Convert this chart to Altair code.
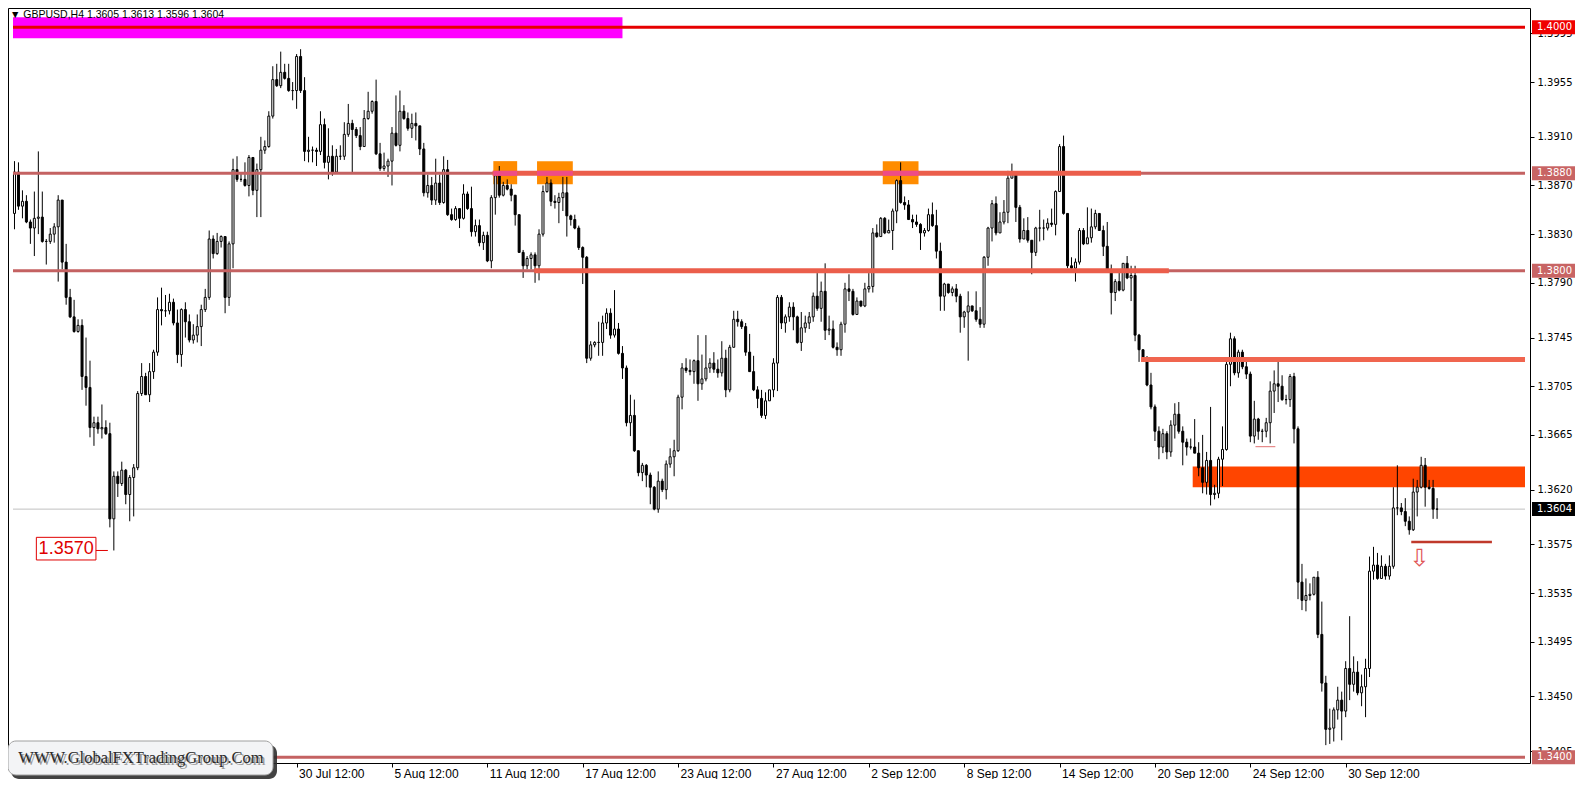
import altair as alt
import pandas as pd

# ---------------- data (prices in 1/10000) ----------------
FIRST_OPEN = 13847
CLOSE = [
13881,13853,13857,13840,13835,13843,13844,13824,13824,13830,13836,13858,13807,13778,13762,13750,13755,13713,13704,13671,
13675,13670,13671,13666,13596,13631,13625,13636,13616,13630,13638,13699,13713,13698,13717,13733,13768,13767,13767,13774,
13757,13731,13768,13758,13743,13747,13754,13768,13778,13826,13814,13824,13828,13778,13822,13883,13875,13875,13870,13893,
13866,13883,13899,13902,13927,13957,13952,13963,13958,13948,13948,13976,13948,13898,13899,13899,13898,13920,13889,13894,
13881,13894,13894,13912,13921,13916,13911,13902,13925,13931,13939,13896,13884,13886,13890,13913,13903,13931,13925,13917,
13921,13919,13900,13864,13870,13858,13872,13856,13883,13846,13842,13851,13843,13863,13851,13832,13837,13823,13829,13808,
13860,13878,13862,13870,13867,13862,13846,13815,13804,13810,13813,13804,13830,13865,13872,13857,13856,13860,13864,13845,
13842,13835,13819,13811,13728,13739,13741,13741,13757,13765,13747,13752,13732,13720,13675,13681,13652,13634,13640,13632,
13622,13604,13627,13620,13641,13647,13652,13696,13720,13718,13717,13726,13707,13711,13720,13724,13719,13716,13728,13702,
13737,13760,13758,13754,13733,13717,13702,13695,13681,13693,13702,13724,13778,13757,13762,13770,13762,13741,13753,13757,
13762,13779,13769,13783,13751,13752,13737,13735,13756,13785,13783,13764,13775,13771,13785,13787,13831,13828,13843,13831,
13833,13849,13874,13856,13854,13842,13840,13838,13831,13833,13846,13837,13816,13779,13789,13782,13785,13779,13762,13766,
13771,13767,13760,13756,13811,13835,13855,13831,13840,13848,13876,13880,13852,13826,13833,13825,13815,13835,13835,13835,
13839,13838,13865,13902,13847,13804,13802,13807,13833,13822,13827,13836,13847,13833,13820,13801,13782,13791,13784,13806,
13794,13796,13747,13735,13729,13706,13688,13668,13655,13666,13651,13673,13682,13668,13659,13655,13655,13650,13638,13626,
13644,13616,13617,13645,13653,13723,13744,13716,13733,13721,13715,13664,13678,13668,13668,13675,13701,13707,13705,13694,
13694,13713,13670,13544,13529,13533,13534,13548,13501,13461,13423,13424,13439,13447,13438,13473,13460,13470,13453,13458,
13473,13553,13558,13547,13557,13549,13557,13605,13605,13602,13594,13587,13618,13622,13640,13622,13621,13604,13604]
HIGH = [
13890,13889,13866,13862,13842,13865,13898,13865,13826,13835,13839,13862,13858,13822,13785,13776,13760,13760,13745,13726,
13680,13680,13690,13677,13675,13635,13635,13643,13637,13632,13641,13701,13724,13716,13724,13735,13778,13786,13780,13781,
13777,13768,13769,13774,13764,13756,13764,13772,13785,13833,13829,13831,13829,13828,13824,13892,13894,13880,13889,13895,
13893,13888,13910,13907,13931,13968,13970,13980,13970,13970,13955,13978,13982,13959,13910,13902,13901,13931,13925,13917,
13903,13900,13903,13922,13937,13924,13918,13918,13932,13947,13940,13957,13905,13897,13892,13918,13944,13948,13936,13930,
13929,13930,13918,13905,13879,13877,13892,13879,13894,13891,13851,13853,13851,13871,13865,13869,13842,13842,13832,13832,
13862,13881,13886,13873,13875,13871,13862,13846,13817,13812,13815,13815,13834,13870,13877,13875,13862,13864,13877,13877,
13846,13846,13837,13820,13812,13742,13742,13758,13763,13769,13769,13784,13757,13738,13722,13698,13694,13652,13642,13641,
13634,13623,13635,13629,13644,13654,13661,13698,13724,13728,13727,13727,13747,13731,13747,13728,13733,13727,13742,13735,
13739,13767,13767,13760,13757,13748,13730,13705,13702,13700,13702,13728,13780,13780,13764,13774,13774,13763,13766,13763,
13766,13782,13798,13791,13806,13763,13759,13741,13758,13790,13797,13785,13778,13775,13790,13798,13835,13838,13844,13844,
13842,13851,13875,13889,13861,13858,13846,13846,13839,13835,13851,13856,13850,13823,13790,13789,13787,13789,13781,13767,
13783,13770,13783,13770,13812,13836,13858,13861,13848,13858,13882,13888,13877,13854,13843,13844,13825,13836,13850,13842,
13843,13851,13866,13904,13911,13847,13811,13810,13835,13835,13852,13851,13850,13847,13837,13840,13805,13793,13801,13806,
13812,13804,13804,13748,13735,13725,13716,13690,13672,13670,13668,13677,13691,13692,13672,13662,13662,13678,13659,13665,
13651,13688,13624,13647,13672,13725,13749,13746,13735,13735,13727,13717,13693,13679,13670,13679,13709,13718,13727,13714,
13698,13715,13716,13672,13559,13547,13543,13548,13553,13528,13467,13440,13441,13458,13454,13479,13516,13483,13479,13468,
13481,13565,13573,13568,13566,13559,13566,13622,13640,13609,13613,13598,13629,13628,13647,13646,13628,13628,13613]
LOW = [
13834,13850,13843,13839,13822,13812,13830,13823,13805,13822,13823,13791,13801,13772,13761,13749,13749,13702,13689,13663,
13656,13666,13662,13665,13589,13570,13614,13623,13608,13594,13598,13636,13697,13698,13692,13711,13730,13755,13762,13764,
13755,13724,13721,13745,13741,13740,13741,13738,13766,13776,13810,13813,13819,13765,13771,13802,13873,13873,13869,13861,
13862,13844,13844,13896,13901,13925,13951,13950,13957,13947,13940,13933,13946,13890,13889,13889,13886,13895,13884,13875,
13878,13880,13891,13891,13910,13881,13909,13899,13902,13924,13929,13895,13882,13882,13877,13870,13902,13898,13924,13915,
13909,13907,13895,13861,13860,13854,13854,13854,13855,13845,13841,13841,13835,13842,13850,13828,13828,13820,13817,13807,
13802,13846,13860,13861,13866,13857,13837,13815,13794,13801,13801,13790,13792,13828,13864,13853,13851,13839,13849,13828,
13837,13834,13817,13789,13724,13726,13737,13730,13730,13752,13744,13745,13731,13711,13672,13664,13651,13631,13627,13622,
13608,13603,13601,13618,13612,13638,13631,13651,13686,13716,13714,13707,13693,13702,13709,13716,13716,13712,13713,13696,
13700,13737,13754,13752,13730,13717,13701,13687,13679,13678,13693,13696,13701,13752,13749,13758,13751,13740,13734,13749,
13752,13758,13767,13758,13743,13747,13736,13730,13730,13749,13775,13763,13764,13770,13770,13782,13782,13827,13828,13830,
13831,13817,13839,13855,13850,13842,13835,13836,13817,13828,13832,13836,13810,13767,13767,13781,13779,13774,13749,13753,
13726,13766,13758,13753,13753,13804,13824,13829,13831,13838,13839,13877,13840,13823,13831,13823,13797,13812,13824,13825,
13833,13836,13829,13865,13846,13802,13801,13791,13805,13821,13822,13823,13834,13833,13812,13801,13764,13775,13783,13783,
13793,13775,13742,13725,13728,13705,13686,13660,13645,13650,13645,13647,13662,13666,13640,13648,13653,13650,13631,13617,
13616,13607,13612,13613,13623,13652,13705,13714,13712,13719,13711,13659,13658,13661,13659,13663,13658,13683,13692,13693,
13690,13688,13658,13530,13521,13520,13529,13533,13498,13454,13410,13411,13413,13431,13414,13433,13447,13454,13451,13442,
13433,13466,13546,13546,13547,13546,13546,13555,13599,13599,13590,13583,13586,13598,13621,13606,13620,13596,13596]

X_LABEL_BARS = [71, 95, 119, 143, 167, 191, 215, 239, 263, 287, 311, 335]
X_LABELS = ["30 Jul 12:00", "5 Aug 12:00", "11 Aug 12:00", "17 Aug 12:00", "23 Aug 12:00",
            "27 Aug 12:00", "2 Sep 12:00", "8 Sep 12:00", "14 Sep 12:00", "20 Sep 12:00",
            "24 Sep 12:00", "30 Sep 12:00"]
Y_TICKS = [1.3995, 1.3955, 1.3910, 1.3870, 1.3830, 1.3790, 1.3745, 1.3705, 1.3665,
           1.3620, 1.3575, 1.3535, 1.3495, 1.3450, 1.3405]

TITLE = "\u25bc GBPUSD,H4  1.3605 1.3613 1.3596 1.3604"
LOGO = "WWW.GlobalFXTradingGroup.Com"

# price-level boxes on the price scale
LEVEL_P = [1.4000, 1.3880, 1.3800, 1.3604, 1.3400]
LEVEL_BG = ["#F00000", "#C86464", "#C86464", "#000000", "#C86464"]

# full-width horizontal lines
FULL_P = [1.3880, 1.3800, 1.3400]
BID_P = 1.3604
RED_P = 1.4000

# drawn segments: start bar, end bar, price, colour, width
SEG_X1 = [120.3, 130.8, 283.5, 312.3, 351.5]
SEG_X2 = [283.5, 290.5, 380.125, 317.3, 371.8]
SEG_P = [1.3880, 1.3800, 1.3727, 1.36553, 1.3577]
SEG_COLOR = ["#EB5E4B", "#EB5E4B", "#F0654F", "#E07070", "#C0392B"]
SEG_W = [5, 5, 5, 1, 2.5]

# orange boxes at the 1.3880 touches
BOX_X1 = [120.5, 131.5, 218.5]
BOX_X2 = [126.5, 140.5, 227.5]
BOX_LO, BOX_HI = 1.3871, 1.3890

# zones
ZONE_X1, ZONE_LO, ZONE_HI = 296.5, 1.3622, 1.3639
MAG_X2, MAG_LO, MAG_HI = 153.0, 1.39909, 1.40083

# ---------------- geometry ----------------
W, H = 1522, 755
XMIN, XMAX = -0.375, 380.125
YMIN, YMAX = 1.339533, 1.401586
xs = alt.Scale(domain=[XMIN, XMAX], nice=False, zero=False)
ys = alt.Scale(domain=[YMIN, YMAX], nice=False, zero=False)
PIX = (YMAX - YMIN) / H  # price per pixel

n = len(CLOSE)
assert len(HIGH) == n and len(LOW) == n
opens = [FIRST_OPEN] + CLOSE[:-1]
rows = []
for i in range(n):
    o, c = opens[i], CLOSE[i]
    h = max(HIGH[i], o, c)
    l = min(LOW[i], o, c)
    rows.append({"i": i, "o": o / 1e4, "c": c / 1e4, "h": h / 1e4, "l": l / 1e4,
                 "fill": "#FFFFFF" if c >= o else "#000000"})
candles = pd.DataFrame(rows)

label_expr = "[" + ",".join("'%s'" % s for s in X_LABELS) + "][round((datum.value-71)/24)]"
x_axis = alt.Axis(values=X_LABEL_BARS, labelExpr=label_expr, title=None, grid=False,
                  domain=False, ticks=True, tickSize=4, tickColor="black",
                  labelAlign="left", labelBaseline="top", labelPadding=1, labelOffset=2,
                  labelFont="Liberation Sans Narrow, Liberation Sans", labelFontSize=12,
                  labelColor="black", labelOverlap=False, labelFlush=False, zindex=0)
y_axis = alt.Axis(orient="right", values=Y_TICKS, format=".4f", title=None, grid=False,
                  domain=False, tickSize=4, tickColor="black", labelPadding=3,
                  labelFont="DejaVu Sans", labelFontSize=10, labelColor="black",
                  labelOverlap=False, labelFlush=False, zindex=0)


def Xf(f):
    return alt.X(f, type="quantitative", scale=xs, axis=x_axis)


def Yf(f):
    return alt.Y(f, type="quantitative", scale=ys, axis=y_axis)


layers = []

# background rectangles
rects = pd.DataFrame({
    "x1": [XMIN] + BOX_X1 + [ZONE_X1],
    "x2": [MAG_X2] + BOX_X2 + [XMAX],
    "lo": [MAG_LO] + [BOX_LO] * 3 + [ZONE_LO],
    "hi": [MAG_HI] + [BOX_HI] * 3 + [ZONE_HI],
    "col": ["#FF00FF", "#FF8C00", "#FF8C00", "#FF8C00", "#FF4500"],
})
layers.append(alt.Chart(rects).mark_rect(clip=True).encode(
    x=Xf("x1"), x2="x2", y=Yf("lo"), y2="hi", fill=alt.Fill("col:N", scale=None)))

# bid line (background)
bid = pd.DataFrame({"x1": [XMIN], "x2": [XMAX], "p": [BID_P]})
layers.append(alt.Chart(bid).mark_rule(color="#C0C0C0", strokeWidth=1, clip=True).encode(
    x=Xf("x1"), x2="x2", y=Yf("p")))

# candles
layers.append(alt.Chart(candles).mark_rule(color="black", strokeWidth=1, clip=True).encode(
    x=Xf("i"), y=Yf("l"), y2="h"))
layers.append(alt.Chart(candles).mark_bar(size=2, stroke="black", strokeWidth=1, clip=True).encode(
    x=Xf("i"), y=Yf("o"), y2="c", fill=alt.Fill("fill:N", scale=None)))

# full-width thin level lines
full = pd.DataFrame({"x1": [XMIN] * len(FULL_P), "x2": [XMAX] * len(FULL_P), "p": FULL_P})
layers.append(alt.Chart(full).mark_rule(color="#C46262", strokeWidth=3, clip=True).encode(
    x=Xf("x1"), x2="x2", y=Yf("p")))

# drawn segments
segs = pd.DataFrame({"x1": SEG_X1, "x2": SEG_X2, "p": SEG_P, "col": SEG_COLOR, "w": SEG_W})
layers.append(alt.Chart(segs).mark_rule(clip=True).encode(
    x=Xf("x1"), x2="x2", y=Yf("p"), color=alt.Color("col:N", scale=None),
    strokeWidth=alt.StrokeWidth("w:Q", scale=None)))

# pinkish part of the 1.3880 line inside orange boxes
pink = pd.DataFrame({"x1": BOX_X1, "x2": BOX_X2, "p": [1.3880] * 3})
layers.append(alt.Chart(pink).mark_rule(color="#EE4C86", strokeWidth=5, clip=True).encode(
    x=Xf("x1"), x2="x2", y=Yf("p")))

# red 1.4000 line
red = pd.DataFrame({"x1": [XMIN], "x2": [XMAX], "p": [RED_P]})
layers.append(alt.Chart(red).mark_rule(color="#E60000", strokeWidth=3, clip=True).encode(
    x=Xf("x1"), x2="x2", y=Yf("p")))

# 1.3570 annotation
ann_box = pd.DataFrame({"x1": [5.5], "x2": [20.5], "lo": [1.35622], "hi": [1.35808]})
layers.append(alt.Chart(ann_box).mark_rect(fill="white", stroke="#E00000", strokeWidth=1).encode(
    x=Xf("x1"), x2="x2", y=Yf("lo"), y2="hi"))
ann_line = pd.DataFrame({"x1": [20.5], "x2": [23.5], "p": [1.3570]})
layers.append(alt.Chart(ann_line).mark_rule(color="#E00000", strokeWidth=1).encode(
    x=Xf("x1"), x2="x2", y=Yf("p")))
ann_txt = pd.DataFrame({"x": [13.0], "p": [1.35716], "t": ["1.3570"]})
layers.append(alt.Chart(ann_txt).mark_text(font="Liberation Sans", fontSize=18, color="#E00000",
                                           align="center", baseline="middle").encode(
    x=Xf("x"), y=Yf("p"), text="t:N"))

# down arrow
arrow = pd.DataFrame({"x": [353.6], "p": [1.3563], "t": ["\u21e9"]})
layers.append(alt.Chart(arrow).mark_text(font="DejaVu Sans", fontSize=24, color="#E05555",
                                         align="center", baseline="middle").encode(
    x=Xf("x"), y=Yf("p"), text="t:N"))

# price-scale level boxes
half = 7 * PIX
lev = pd.DataFrame({"p": LEVEL_P, "bg": LEVEL_BG,
                    "lo": [p - half for p in LEVEL_P], "hi": [p + half for p in LEVEL_P],
                    "t": ["%.4f" % p for p in LEVEL_P]})
layers.append(alt.Chart(lev).mark_rect().encode(
    x=alt.value(W + 2), x2=alt.value(W + 47), y=Yf("lo"), y2="hi",
    fill=alt.Fill("bg:N", scale=None)))
layers.append(alt.Chart(lev).mark_text(font="DejaVu Sans", fontSize=10, color="white",
                                       align="left", baseline="middle").encode(
    x=alt.value(W + 7), y=Yf("p"), text="t:N"))

# title
one = pd.DataFrame({"k": [0]})
layers.append(alt.Chart(one).mark_text(font="Liberation Sans", fontSize=10.5, color="black",
                                       align="left", baseline="middle").encode(
    x=alt.value(2), y=alt.value(7), text=alt.value(TITLE)))

# logo
layers.append(alt.Chart(one).mark_rect(cornerRadius=8, color="#2E2E2E", opacity=0.9).encode(
    x=alt.value(3), x2=alt.value(269), y=alt.value(737), y2=alt.value(771)))
layers.append(alt.Chart(one).mark_rect(cornerRadius=8, fill="#F3F4F6", stroke="#A0A0A0",
                                       strokeWidth=1).encode(
    x=alt.value(0), x2=alt.value(265), y=alt.value(733), y2=alt.value(767)))
layers.append(alt.Chart(one).mark_text(font="Liberation Serif", fontSize=16.5, color="#9A9A9A",
                                       align="center", baseline="middle").encode(
    x=alt.value(135), y=alt.value(752), text=alt.value(LOGO)))
layers.append(alt.Chart(one).mark_text(font="Liberation Serif", fontSize=16.5, color="#2A2A2A",
                                       align="center", baseline="middle").encode(
    x=alt.value(133), y=alt.value(750), text=alt.value(LOGO)))

chart = alt.layer(*layers).properties(
    width=W, height=H,
    autosize=alt.AutoSizeParams(type="none"),
    padding={"left": 0, "top": 0, "right": 45, "bottom": 16},
    background="white",
).configure_view(stroke="black", strokeWidth=1)

chart.save("out.html", embed_options={"renderer": "svg", "actions": False})
